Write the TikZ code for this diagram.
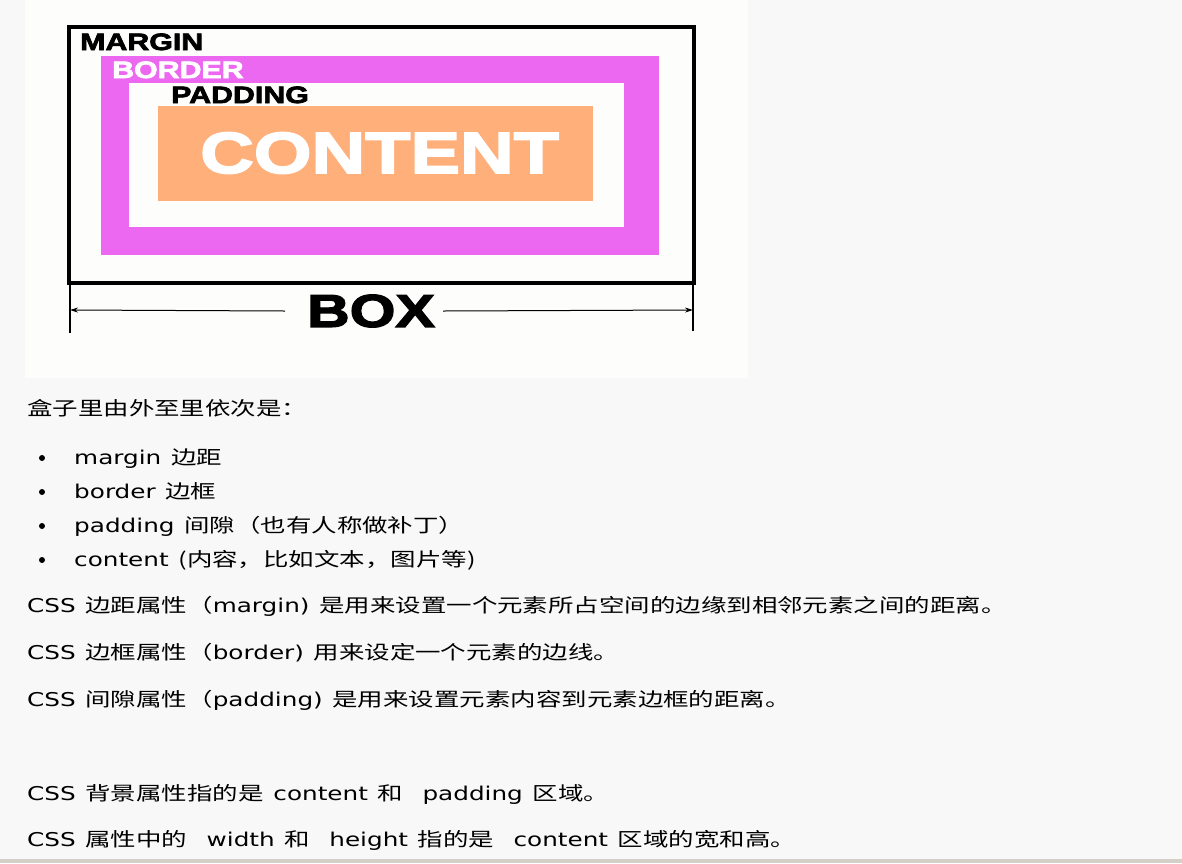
\documentclass[tikz,border=0pt]{standalone}
\usepackage{fontspec}
\setmainfont{DejaVu Sans}
\newfontfamily\cjk[FakeStretch=1.34,WordSpace=1.7]{Noto Sans CJK SC}
\newfontfamily\latn[FakeStretch=1.3]{DejaVu Sans}
\newfontfamily\boxfont[FakeStretch=1.28,FakeBold=3]{Liberation Sans Bold}
\usetikzlibrary{positioning,arrows.meta}

\definecolor{pagebg}{RGB}{248,248,248}
\definecolor{panelbg}{RGB}{253,253,252}
\definecolor{bordermag}{RGB}{236,104,240}
\definecolor{contentor}{RGB}{255,176,122}
\definecolor{framegray}{RGB}{212,208,200}

\tikzset{
  layer/.style={inner sep=0pt, outer sep=0pt},
  tag/.style={anchor=base west, inner sep=0pt, font=\boxfont\fontsize{23.7}{24}\selectfont},
  line/.style={anchor=base west, inner sep=0pt, font=\cjk\fontsize{19}{22}\selectfont},
  dot/.style={circle, fill=black, inner sep=0pt, minimum size=6pt}
}

\begin{document}
\begin{tikzpicture}[x=1pt,y=-1pt]
  % canvas
  \fill[pagebg] (0,0) rectangle (1182,863);
  \useasboundingbox (0,0) rectangle (1182,863);
  \fill[framegray] (0,859) rectangle (1182,863);
  \fill[panelbg] (25,0) rectangle (748,378);

  % the nested boxes
  \node[layer, draw, line width=3.5pt, minimum width=625, minimum height=256] (margin) at (381.5,155) {};
  \node[layer, fill=bordermag, minimum width=558, minimum height=199] (border) at (380,155.5) {};
  \node[layer, fill=panelbg, minimum width=495, minimum height=144] (padding) at (376.5,155) {};
  \node[layer, fill=contentor, minimum width=435, minimum height=95] (content) at (375.5,153.5) {};

  % box labels
  \node[tag] (marginlbl) at (80,50) {MARGIN};
  \node[tag, text=white] (borderlbl) at (112,78) {BORDER};
  \node[tag] (paddinglbl) at (171,103) {PADDING};
  \node[tag, text=white, font=\boxfont\fontsize{58}{59}\selectfont] (contentlbl) at (200,173) {CONTENT};

  % width of the box
  \coordinate (boxL) at (70,310);
  \coordinate (boxR) at (693,310);
  \draw[line width=1.5pt] (70,283) -- (70,333);
  \draw[line width=1.5pt] (693,283) -- (693,331);
  \node[inner sep=0pt, font=\boxfont\fontsize{46}{47}\selectfont] (boxlbl) at (371,311) {BOX};
  \draw[line width=1pt, -{Stealth[length=8pt,width=5pt]}] ([xshift=-22pt]boxlbl.west) -- (boxL);
  \draw[line width=1pt, -{Stealth[length=8pt,width=5pt]}] ([xshift=8pt]boxlbl.east) -- (boxR);

  % notes
  \node[line] (intro) at (27,415) {盒子里由外至里依次是：};
  \foreach \y/\txt [count=\i] in {464/{{\latn margin} 边距},
                                  498/{{\latn border} 边框},
                                  532/{{\latn padding} 间隙（也有人称做补丁）},
                                  566/{{\latn content} (内容，比如文本，图片等)}} {
    \node[dot] (b\i) at (42,\y-6) {};
    \node[line] (item\i) at (74,\y) {\txt};
  }
  \node[line] (css1) at (27,612) {{\latn CSS} 边距属性（{\latn margin)} 是用来设置一个元素所占空间的边缘到相邻元素之间的距离。};
  \node[line] (css2) at (27,659) {{\latn CSS} 边框属性（{\latn border)} 用来设定一个元素的边线。};
  \node[line] (css3) at (27,706) {{\latn CSS} 间隙属性（{\latn padding)} 是用来设置元素内容到元素边框的距离。};
  \node[line] (css4) at (27,800) {{\latn CSS} 背景属性指的是 {\latn content} 和 \ {\latn padding} 区域。};
  \node[line] (css5) at (27,846) {{\latn CSS} 属性中的 \ {\latn width} 和 \ {\latn height} 指的是 \ {\latn content} 区域的宽和高。};
\end{tikzpicture}
\end{document}
